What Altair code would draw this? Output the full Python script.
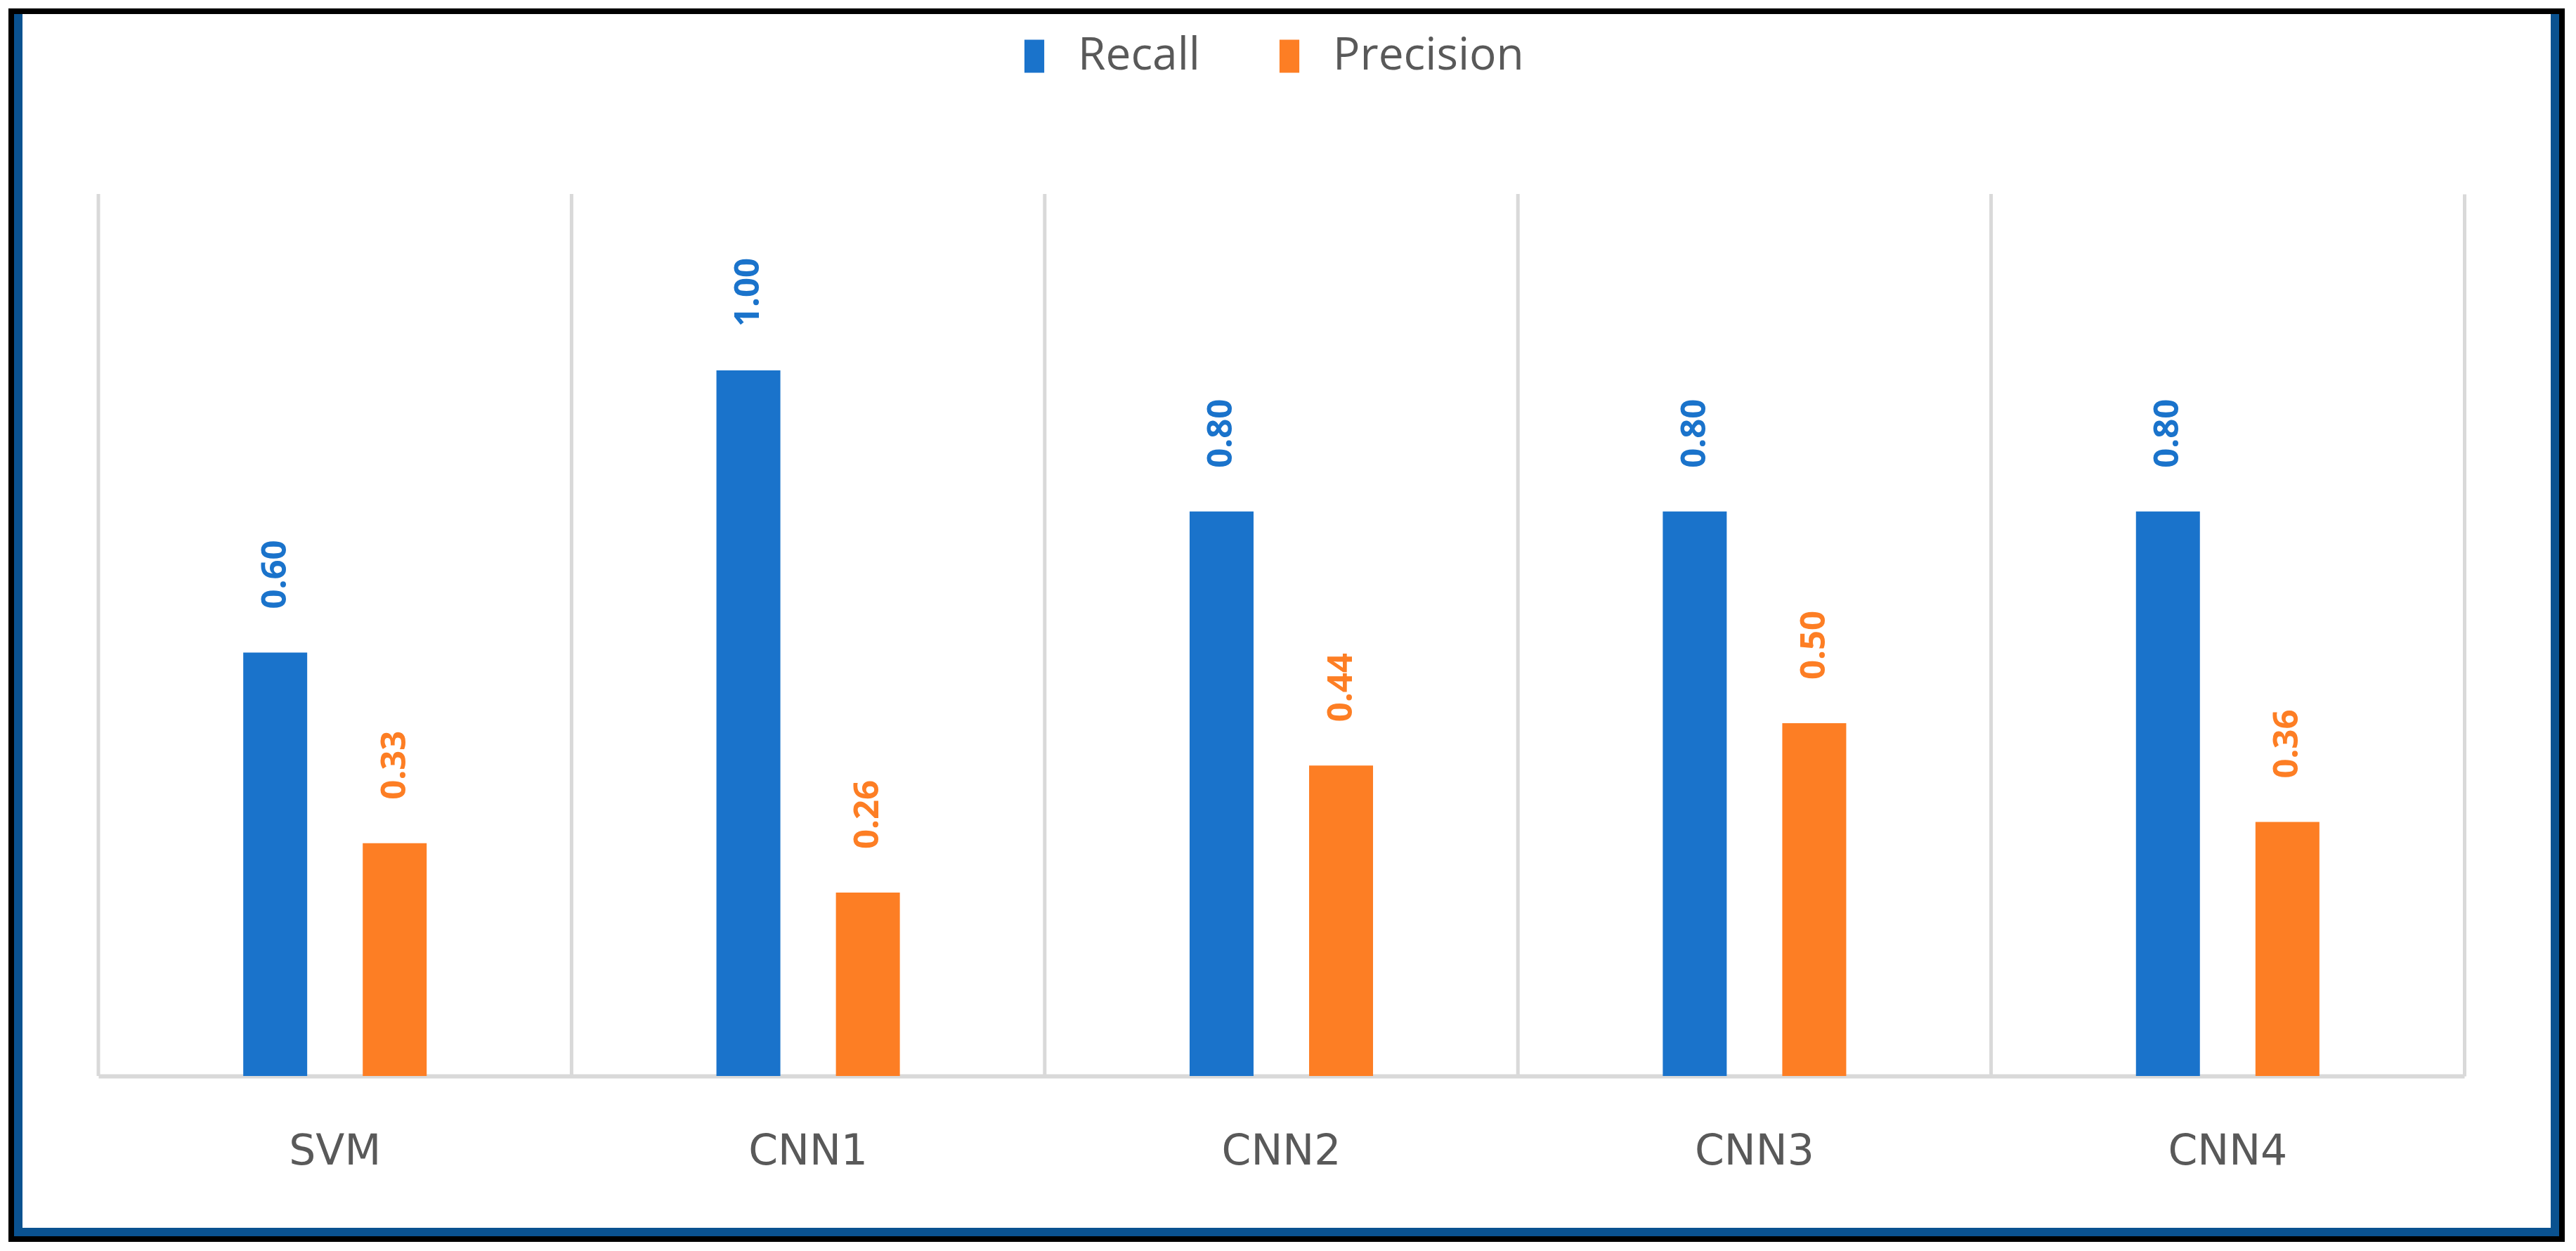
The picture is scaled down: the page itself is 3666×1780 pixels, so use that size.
import altair as alt
import pandas as pd

models = ["SVM", "CNN1", "CNN2", "CNN3", "CNN4"]
recall = [0.60, 1.00, 0.80, 0.80, 0.80]
precision = [0.33, 0.26, 0.44, 0.50, 0.36]
series = ["Recall", "Precision"]
colors = ["#1a73cb", "#fd7e24"]

rows = []
for m, r, p in zip(models, recall, precision):
    rows.append({"model": m, "series": "Recall", "value": r})
    rows.append({"model": m, "series": "Precision", "value": p})
df = pd.DataFrame(rows)

W, H = 3367, 1255
FONT = "Open Sans"

xscale = alt.Scale(domain=models, paddingInner=0, paddingOuter=0)
yscale = alt.Scale(domain=[0, 1.25], nice=False)
offscale = alt.Scale(domain=series, paddingInner=0.04, paddingOuter=1)
cscale = alt.Scale(domain=series, range=colors)

xaxis = alt.Axis(labelFont="DejaVu Sans", labelFontSize=60, labelColor="#595959",
                 labelPadding=78, labelAngle=0, labelAlign="center", bandPosition=0.5,
                 labelLimit=0, ticks=False, domain=True,
                 domainColor="#d9d9d9", domainWidth=6, grid=False, title=None)
yaxis = alt.Axis(orient="right", labels=False, ticks=False, grid=False,
                 domain=True, domainColor="#d9d9d9", domainWidth=5, title=None)

base = alt.Chart(df)

bars = base.mark_bar(size=91).encode(
    x=alt.X("model:N", scale=xscale, sort=models, axis=xaxis),
    xOffset=alt.XOffset("series:N", scale=offscale, sort=series),
    y=alt.Y("value:Q", scale=yscale, axis=yaxis),
    color=alt.Color("series:N", scale=cscale, sort=series, title=None,
                    legend=alt.Legend(orient="none", direction="horizontal",
                                      legendX=1300, legendY=-228,
                                      symbolType="M-0.6,-1H0.6V1H-0.6Z", symbolSize=2209,
                                      symbolStrokeWidth=0, symbolOpacity=1,
                                      labelFont=FONT, labelFontSize=64, labelColor="#595959",
                                      labelLimit=0, labelOffset=30, columnPadding=95)),
)

labels = base.mark_text(angle=270, align="left", baseline="middle", dx=62,
                        font=FONT, fontSize=49, fontWeight="bold").encode(
    x=alt.X("model:N", scale=xscale, sort=models, axis=xaxis),
    xOffset=alt.XOffset("series:N", scale=offscale, sort=series),
    y=alt.Y("value:Q", scale=yscale, axis=yaxis),
    text=alt.Text("value:Q", format=".2f"),
    color=alt.Color("series:N", scale=cscale, sort=series, legend=None),
)

seps = alt.Chart(pd.DataFrame({"model": models})).mark_rule(
    color="#d9d9d9", strokeWidth=5).encode(
    x=alt.X("model:N", scale=xscale, sort=models, bandPosition=0, axis=xaxis),
    y=alt.Y(datum=0, scale=yscale, axis=yaxis),
    y2=alt.Y2(datum=1.25),
)

one = alt.Data(values=[{"k": 1}])
frame_black = alt.Chart(one).mark_rect(fill="transparent", stroke="#000000",
                                        strokeWidth=8).encode(
    x=alt.value(-124), x2=alt.value(W + 139),
    y=alt.value(-260), y2=alt.value(H + 232))
blue_left = alt.Chart(one).mark_rule(color="#0a5290", strokeWidth=12).encode(
    x=alt.value(-114), y=alt.value(-256), y2=alt.value(H + 226))
blue_right = alt.Chart(one).mark_rule(color="#0a5290", strokeWidth=12).encode(
    x=alt.value(W + 129), y=alt.value(-256), y2=alt.value(H + 226))
blue_bottom = alt.Chart(one).mark_rule(color="#0a5290", strokeWidth=12).encode(
    x=alt.value(-120), x2=alt.value(W + 135), y=alt.value(H + 222))

chart = alt.layer(seps, bars, labels, blue_left, blue_right, blue_bottom, frame_black).properties(
    width=W, height=H,
    autosize=alt.AutoSizeParams(type="none"),
    padding={"left": 132, "top": 268, "right": 151, "bottom": 241},
    background="white",
).configure_view(stroke=None)

chart.save("out.html", embed_options={"renderer": "svg", "actions": False})
